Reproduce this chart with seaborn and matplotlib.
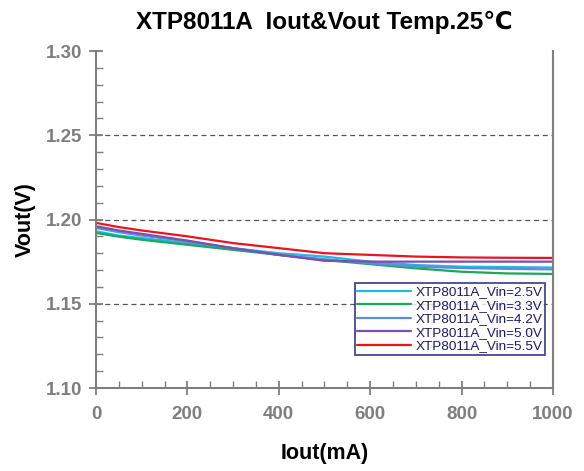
import pandas as pd
import matplotlib.pyplot as plt
import seaborn as sns
from matplotlib.ticker import MultipleLocator

sns.set_theme(style='ticks')
plt.rcParams['font.family'] = ['Liberation Sans', 'DejaVu Sans']

# Iout (mA) sample points
iout = [0, 50, 100, 200, 300, 400, 500, 600, 700, 800, 900, 1000]

vout_25 = [1.193, 1.1905, 1.189, 1.186, 1.183, 1.180, 1.178, 1.175, 1.173, 1.172, 1.1718, 1.1715]
vout_33 = [1.192, 1.1898, 1.188, 1.185, 1.182, 1.179, 1.176, 1.1735, 1.171, 1.169, 1.168, 1.1677]
vout_42 = [1.195, 1.1925, 1.1905, 1.187, 1.183, 1.179, 1.1765, 1.174, 1.172, 1.1712, 1.1707, 1.1704]
vout_50 = [1.196, 1.1935, 1.1915, 1.1875, 1.183, 1.179, 1.1755, 1.175, 1.175, 1.175, 1.175, 1.175]
vout_55 = [1.198, 1.1955, 1.1935, 1.190, 1.186, 1.183, 1.180, 1.179, 1.178, 1.1775, 1.1773, 1.1772]

series = {
    'XTP8011A_Vin=2.5V': vout_25,
    'XTP8011A_Vin=3.3V': vout_33,
    'XTP8011A_Vin=4.2V': vout_42,
    'XTP8011A_Vin=5.0V': vout_50,
    'XTP8011A_Vin=5.5V': vout_55,
}
colors = ['#22b8e6', '#1aa85a', '#5a8ed6', '#7a4fb0', '#e8141e']

rows = []
for name, vals in series.items():
    for x, v in zip(iout, vals):
        rows.append({'Iout': x, 'Vout': v, 'series': name})
df = pd.DataFrame(rows)

fig = plt.figure(figsize=(5.84, 4.71), dpi=100)
ax = fig.add_axes([0.1644, 0.1762, 0.7825, 0.7155])

sns.lineplot(data=df, x='Iout', y='Vout', hue='series', palette=colors,
             linewidth=1.6, ax=ax)

ax.set_xlim(0, 1000)
ax.set_ylim(1.10, 1.30)
ax.xaxis.set_major_locator(MultipleLocator(200))
ax.xaxis.set_minor_locator(MultipleLocator(50))
ax.yaxis.set_major_locator(MultipleLocator(0.05))
ax.yaxis.set_minor_locator(MultipleLocator(0.01))
ax.yaxis.set_major_formatter(plt.FormatStrFormatter('%.2f'))

gray = '#7f7f7f'
for side in ['left', 'bottom', 'right']:
    ax.spines[side].set_color(gray)
    ax.spines[side].set_linewidth(1.5)
ax.spines['top'].set_visible(False)

ax.tick_params(which='major', direction='inout', length=10, width=1.3,
               color=gray, labelcolor=gray, labelsize=13.5)
ax.tick_params(axis='x', which='major', pad=8)
ax.tick_params(axis='y', which='major', pad=5)
ax.tick_params(which='minor', direction='in', length=5, width=1.0, color=gray)
for lab in ax.get_xticklabels() + ax.get_yticklabels():
    lab.set_fontweight('bold')

# dashed reference lines at the inner major ticks only
y0, y1 = ax.get_ylim()
for yv in ax.get_yticks():
    if y0 + 1e-6 < yv < y1 - 1e-6:
        ax.axhline(yv, linestyle=(0, (4, 3)), color='#555555', linewidth=0.9, zorder=0)

ax.set_xlabel('Iout(mA)', fontsize=15.5, fontweight='bold', color='black', labelpad=14)
ax.set_ylabel('Vout(V)', fontsize=15.5, fontweight='bold', color='black', labelpad=7)
ax.set_title('XTP8011A  Iout&Vout Temp.25℃', fontsize=17.5, fontweight='bold',
             color='black', pad=16)

leg = ax.legend(loc='lower right', bbox_to_anchor=(0.9825, 0.098), borderaxespad=0,
                fontsize=9.7, frameon=True, fancybox=False, handlelength=4.0,
                borderpad=0.2, labelspacing=0.08, handletextpad=0.3)
leg.get_frame().set_edgecolor('#1a1a6e')
leg.get_frame().set_linewidth(1.3)
for t in leg.get_texts():
    t.set_color('#1a1a6e')

fig.savefig('out.png', dpi=100)
